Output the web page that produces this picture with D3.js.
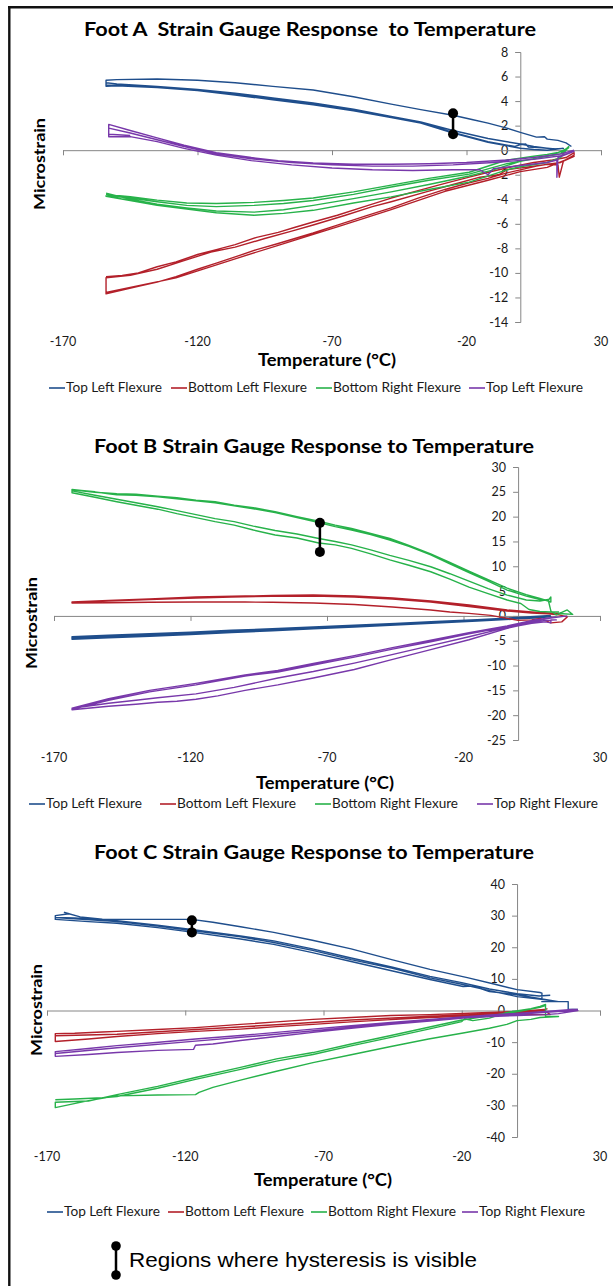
<!DOCTYPE html>
<html><head><meta charset="utf-8">
<script src="https://cdn.jsdelivr.net/npm/d3@7"></script>
<style>body{margin:0;background:#fff}svg{display:block}</style>
</head><body><svg id="c" width="613" height="1286"></svg>
<script>
// ---------------- DATA ----------------
const xTicks = [-170, -120, -70, -20, 30];
const yTicksA = [8, 6, 4, 2, 0, -2, -4, -6, -8, -10, -12, -14];
const yTicksB = [30, 25, 20, 15, 10, 5, 0, -5, -10, -15, -20, -25];
const yTicksC = [40, 30, 20, 10, 0, -10, -20, -30, -40];

const titles = ["Foot A  Strain Gauge Response  to Temperature",
                "Foot B Strain Gauge Response to Temperature",
                "Foot C Strain Gauge Response to Temperature"];
const legendA = ["Top Left Flexure", "Bottom Left Flexure", "Bottom Right Flexure", "Top Left Flexure"];
const legendB = ["Top Left Flexure", "Bottom Left Flexure", "Bottom Right Flexure", "Top Right Flexure"];
const legendC = ["Top Left Flexure", "Bottom Left Flexure", "Bottom Right Flexure", "Top Right Flexure"];
const seriesColors = ["#1F4E8C", "#B3202A", "#27B24A", "#7838AA"];

// Foot A  [temperature °C, microstrain]
const A_topLeft = [
 [19,0.3],[17,0.6],[14,0.8],[10,0.9],[9,1.1],[6,1.06],[0,1.45],[-5,1.8],[-12,2.2],[-18,2.5],[-25,2.85],[-37,3.3],[-48,3.75],[-62,4.35],[-77,4.9],[-92,5.2],[-106,5.5],[-120,5.7],[-135,5.8],[-150,5.75],[-154,5.7],
 [-154,5.2],[-150,5.25],[-135,5.1],[-120,4.85],[-106,4.5],[-92,4.1],[-77,3.7],[-62,3.2],[-48,2.65],[-37,2.2],[-25,1.4],[-12,0.65],[0,0.16],[5,0.05],[10,0],[16,0.15],
 [12,0.1],[5,0.3],[0,0.5],[-12,0.95],[-25,1.6],[-37,2.3],[-48,2.75],[-62,3.35],[-77,3.85],[-92,4.25],[-106,4.65],[-120,4.95],[-135,5.2],[-150,5.4],[-154,5.5],[-154,5.3],
 [-150,5.3],[-135,5.15],[-120,4.9],[-106,4.55],[-92,4.15],[-77,3.75],[-62,3.25],[-48,2.7],[-37,2.25],[-25,1.45],[-12,0.7],[-2,0.3],[0,0.45],[2,0.5],[3,0.25],[8,0.2],[13,0.1]
];
const A_bottomLeft = [
 [-154,-10.3],[-148,-10.2],[-142,-10.0],[-135,-9.5],[-128,-9.1],[-120,-8.5],[-113,-8.1],[-106,-7.7],[-98,-7.1],[-90,-6.7],[-84,-6.3],[-77,-5.85],[-68,-5.3],[-58,-4.6],[-48,-3.9],[-38,-3.3],[-28,-2.7],[-19,-2.2],[-10,-1.7],[-2,-1.3],[5,-1.0],[12,-0.8],[17,-0.6],[20,-0.2],
 [20,-0.4],[16,-0.9],[14.5,-2.2],[14,-1.2],[10,-1.15],[6,-1.3],[0,-1.6],[-5,-1.85],[-12,-2.3],[-19,-2.65],[-28,-3.2],[-38,-3.9],[-48,-4.7],[-58,-5.4],[-68,-6.1],[-77,-6.75],[-90,-7.6],[-98,-8.1],[-106,-8.7],[-113,-9.2],[-120,-9.7],[-128,-10.3],[-135,-10.75],[-142,-11.1],[-148,-11.4],[-154,-11.7],[-154,-10.4],
 [-145,-10.2],[-135,-9.7],[-125,-9.0],[-115,-8.3],[-106,-7.9],[-95,-7.2],[-85,-6.6],[-77,-6.1],[-65,-5.3],[-55,-4.6],[-48,-4.2],[-35,-3.4],[-25,-2.8],[-15,-2.2],[-8,-2.0],[-5,-1.6],[5,-1.3],[15,-1.0],[20,-0.5],
 [10,-1.4],[0,-1.75],[-12,-2.45],[-28,-3.35],[-48,-4.85],[-68,-6.25],[-90,-7.75],[-106,-8.85],[-128,-10.4],[-154,-11.6]
];
const A_bottomRight = [
 [-154,-3.6],[-145,-3.8],[-135,-4.07],[-124,-4.3],[-113,-4.35],[-106,-4.3],[-99,-4.25],[-88,-4.1],[-77,-3.9],[-62,-3.4],[-48,-2.85],[-34,-2.3],[-19,-1.8],[-5,-0.8],[5,-0.5],[10,-0.35],[16,-0.1],[18,0.3],
 [15,-0.6],[10,-1.0],[0,-1.35],[-5,-1.6],[-19,-2.6],[-34,-3.2],[-48,-3.8],[-62,-4.3],[-77,-4.9],[-88,-5.15],[-99,-5.3],[-113,-5.1],[-124,-4.8],[-135,-4.5],[-145,-4.1],[-154,-3.75],
 [-154,-3.7],[-145,-3.9],[-135,-4.2],[-124,-4.5],[-113,-4.6],[-99,-4.5],[-88,-4.35],[-77,-4.1],[-62,-3.6],[-48,-3.0],[-34,-2.45],[-19,-1.95],[-5,-1.1],[5,-0.7],[15,-0.3],[18,0.2],
 [12,-0.4],[0,-0.9],[-10,-1.6],[-19,-2.1],[-34,-2.8],[-48,-3.4],[-62,-3.95],[-77,-4.5],[-88,-4.85],[-99,-5.05],[-113,-4.95],[-124,-4.7],[-135,-4.4],[-145,-4.0],[-154,-3.5]
];
const A_topLeft2 = [
 [20,0],[15,-0.3],[5,-0.6],[-5,-0.8],[-20,-1.0],[-34,-1.1],[-48,-1.15],[-62,-1.15],[-77,-1.05],[-90,-0.85],[-100,-0.6],[-113,-0.2],[-125,0.4],[-135,1.0],[-145,1.6],[-153,2.1],
 [-153,1.1],[-145,1.1],[-135,0.7],[-125,0.15],[-113,-0.4],[-100,-0.85],[-85,-1.2],[-70,-1.45],[-55,-1.6],[-40,-1.65],[-25,-1.6],[-15,-1.6],[-12,-2.0],[-10,-1.5],[0,-1.25],[10,-1.0],[13.6,-0.8],[13.6,-2.2],[14,-0.6],[20,-0.1],
 [15,-0.45],[5,-0.75],[-10,-1.0],[-25,-1.2],[-40,-1.3],[-55,-1.3],[-70,-1.2],[-85,-1.0],[-100,-0.7],[-113,-0.3],[-125,0.3],[-135,0.85],[-145,1.4],[-153,1.8],[-153,1.3],[-145,1.2]
];

// Foot B
const B_topLeft = [
 [12,0.1],[6,-0.1],[0,-0.3],[-15,-0.75],[-30,-1.1],[-45,-1.5],[-60,-1.85],[-75,-2.2],[-90,-2.6],[-105,-2.9],[-120,-3.3],[-135,-3.6],[-150,-3.9],[-163.4,-4.2],
 [-163.4,-4.7],[-150,-4.4],[-135,-4.1],[-120,-3.75],[-105,-3.35],[-90,-3.0],[-75,-2.6],[-60,-2.25],[-45,-1.85],[-30,-1.45],[-15,-1.05],[0,-0.6],[6,-0.45],[12,-0.2],
 [6,-0.25],[0,-0.45],[-15,-0.9],[-30,-1.3],[-45,-1.7],[-60,-2.05],[-75,-2.4],[-90,-2.8],[-105,-3.15],[-120,-3.55],[-135,-3.85],[-150,-4.15],[-163.4,-4.5]
];
const B_bottomLeft = [
 [15,0.5],[11,0.6],[5,0.8],[-4,1.2],[-18,2.2],[-32,3.0],[-46,3.6],[-60,4.0],[-75,4.2],[-90,4.1],[-100,4.0],[-118,3.8],[-135,3.4],[-150,3.1],[-163.4,2.8],
 [-163.4,2.6],[-150,2.65],[-135,2.75],[-118,2.8],[-100,2.8],[-90,2.75],[-75,2.6],[-60,2.3],[-46,1.8],[-32,1.2],[-25,0.8],[-18,0.5],[-10,0.1],[-4,-0.5],[0,-0.9],[5,-0.8],[8,-0.5],[12,-1.4],[16,-1.2],[18,-0.2],[15,0.2],
 [11,0.4],[5,0.6],[-4,1.0],[-18,1.9],[-32,2.8],[-46,3.4],[-60,3.8],[-75,4.0],[-90,3.95],[-105,3.8],[-118,3.6],[-135,3.3],[-150,3.0],[-163.4,2.7]
];
const B_bottomRight = [
 [15,0.8],[12,0.8],[8,0.9],[4,1.3],[1,2.5],[-4,3.2],[-11,4.5],[-18,5.8],[-25,7.4],[-32,8.9],[-40,10.2],[-47,11.3],[-54,12.5],[-61,13.6],[-67,14.3],[-73,14.7],[-81,15.7],[-89,16.3],[-97,17.3],[-104,18.3],[-111,19.0],[-118,19.8],[-125,20.6],[-132,21.5],[-140,22.3],[-147,23.0],[-155,23.9],[-163.4,24.8],
 [-163.4,25.5],[-160,25.3],[-155,25.0],[-150,24.6],[-147,24.4],[-140,24.3],[-132,24.0],[-125,23.6],[-118,23.2],[-111,22.8],[-104,22.2],[-97,21.6],[-89,20.8],[-81,19.8],[-73,18.8],[-67,18.0],[-61,17.3],[-54,16.4],[-47,15.3],[-40,14.0],[-32,12.3],[-25,10.5],[-18,8.7],[-11,7.0],[-4,5.2],[3,4.0],[8,3.3],[11,3.1],[12,3.8],[12,2.8],
 [11,3.0],[8,3.5],[3,4.3],[-4,5.6],[-11,7.3],[-18,9.0],[-25,10.8],[-32,12.5],[-40,14.2],[-47,15.6],[-54,16.6],[-61,17.6],[-67,18.3],[-73,19.1],[-81,20.0],[-89,21.0],[-97,21.8],[-104,22.3],[-111,23.0],[-118,23.3],[-125,23.8],[-132,24.1],[-140,24.5],[-147,24.6],[-155,24.9],[-163.4,25.4],
 [-163.4,25.2],[-155,24.3],[-147,23.5],[-140,22.8],[-132,22.0],[-125,21.2],[-118,20.4],[-111,19.6],[-104,19.0],[-97,18.1],[-89,17.2],[-81,16.5],[-73,15.6],[-67,15.0],[-61,14.3],[-54,13.3],[-47,12.2],[-40,11.2],[-32,9.9],[-25,8.5],[-18,7.0],[-11,5.5],[-4,4.2],[3,3.2],[8,3.0],[11,3.3],[12,1.0],[14,0.2],[18,1.2],[20,0.3],[15,0.5]
];
const B_topRight = [
 [18,0],[14,-0.3],[10,-0.6],[6,-1.0],[-4,-2.2],[-18,-3.6],[-32,-5.2],[-46,-6.7],[-60,-8.3],[-75,-9.9],[-88,-11.3],[-100,-12.1],[-118,-13.9],[-135,-15.3],[-150,-17.0],[-163.4,-18.8],
 [-163.4,-18.9],[-150,-18.2],[-140,-17.8],[-132,-17.4],[-125,-17.2],[-118,-16.8],[-110,-16.1],[-100,-15.0],[-88,-13.9],[-75,-12.5],[-60,-10.8],[-47,-8.9],[-32,-6.8],[-18,-4.8],[-4,-2.5],[0,-2.0],[5,-1.5],[10,-1.2],[12,-1.4],[12,-0.8],[14,-0.8],
 [10,-0.9],[5,-1.3],[-4,-2.3],[-18,-4.2],[-32,-6.0],[-47,-7.9],[-60,-9.5],[-75,-11.2],[-88,-12.5],[-104,-14.4],[-118,-15.7],[-132,-16.5],[-140,-17.0],[-150,-17.6],[-163.4,-18.6],
 [-150,-16.7],[-135,-15.0],[-118,-13.6],[-100,-11.9],[-88,-11.0],[-75,-9.6],[-60,-8.0],[-46,-6.4],[-32,-4.9],[-18,-3.4],[-4,-2.0],[6,-0.8],[14,-0.2]
];

// Foot C
const C_topLeft = [
 [22,0.3],[18.5,0.3],[18.5,2.8],[9,2.8],[9,5.5],[8.3,5.7],[0,6.6],[-8,8.3],[-18,10.4],[-31.5,13.0],[-45,16.0],[-60,19.5],[-74,22.2],[-88,24.7],[-100,26.5],[-110,27.9],[-117.7,28.8],[-130,28.8],[-140,28.8],[-150,28.9],[-158,29.6],[-163.7,31],[-162,30.6],[-167,30.0],
 [-167,28.8],[-155,28.1],[-144.7,27.6],[-130,26.2],[-117.7,24.8],[-100,22.6],[-88,20.9],[-74,18.3],[-60,15.5],[-45,12.5],[-31.5,9.8],[-19.5,7.6],[-16,7.7],[-14,7.2],[-10,6.0],[0,5.0],[5.8,4.1],[15,2.8],
 [8,3.6],[0,4.4],[-10,6.3],[-20,8.3],[-31.5,10.3],[-45,13.3],[-60,16.1],[-74,19.0],[-88,21.5],[-100,23.3],[-117.7,25.3],[-130,26.7],[-144.7,28.1],[-160,29.0],[-167,29.4],
 [-160,29.3],[-144.7,28.4],[-130,27.0],[-117.7,25.6],[-100,23.6],[-88,22.0],[-74,19.5],[-60,16.6],[-45,13.7],[-31.5,10.8],[-20,8.8],[-10,6.8],[0,5.3],[8,4.6],[12,4.8]
];
const C_bottomLeft = [
 [11,0.6],[10,0.3],[0,-0.3],[-15,-0.8],[-31.5,-1.3],[-45.6,-1.6],[-60,-2.2],[-73.8,-2.8],[-87,-3.6],[-100,-4.4],[-116.3,-5.4],[-130,-6.0],[-144.7,-6.6],[-150,-6.8],[-160,-7.2],[-167,-7.3],
 [-167,-9.8],[-155,-9.0],[-144.7,-8.2],[-130,-7.3],[-116.3,-6.6],[-100,-5.9],[-87,-5.1],[-73.8,-4.4],[-60,-3.6],[-45.6,-2.9],[-31.5,-2.2],[-15,-1.7],[0,-1.3],[12,-1.3],
 [10,0.0],[0,-0.8],[-31.5,-1.8],[-60,-3.0],[-87,-4.5],[-116.3,-6.0],[-144.7,-7.5],[-167,-8.0]
];
const C_bottomRight = [
 [-167,-28.2],[-160,-28.0],[-150,-27.6],[-144.7,-27.2],[-130,-24.6],[-116.3,-21.8],[-100,-18.6],[-87,-16.0],[-73.8,-13.9],[-60,-11.2],[-45.6,-8.5],[-32,-5.9],[-20,-3.5],[-19,-2.6],[-16,-3.2],[-10,-2.4],[-3.7,-0.6],[5,0.6],[8.3,1.3],[10.3,1.9],[10.3,-1.9],
 [15,-1.9],[8.3,-2.2],[5,-2.8],[0,-3.2],[-3.7,-4.4],[-10,-5.6],[-20,-7.2],[-32,-9.0],[-45.6,-11.4],[-60,-14.0],[-73.8,-16.5],[-87,-19.2],[-100,-22.0],[-110,-24.3],[-115,-25.9],[-116.3,-26.6],[-130,-26.7],[-144.7,-27.0],[-155,-28.5],[-167,-30.7],[-167,-29.0],
 [-155,-28.6],[-144.7,-26.6],[-130,-24.0],[-116.3,-21.2],[-100,-18.0],[-87,-15.3],[-73.8,-13.3],[-60,-10.6],[-45.6,-7.9],[-32,-5.3],[-20,-3.0],[-10,-1.7],[0,-0.4],[8.3,1.0],[10.5,1.6]
];
const C_topRight = [
 [22,0.3],[20,0.3],[10.3,-0.3],[0,-0.9],[-17.4,-1.9],[-31.5,-2.8],[-45.6,-3.8],[-60,-4.8],[-74,-5.9],[-88,-7.0],[-100,-7.9],[-116.3,-9.0],[-130.6,-10.1],[-144.7,-11.1],[-155,-12.0],[-167,-13.0],
 [-167,-14.5],[-155,-13.9],[-144.7,-13.3],[-130,-12.6],[-117,-12.3],[-116.3,-11.0],[-110,-10.6],[-100,-9.5],[-87,-8.2],[-73.8,-6.9],[-60,-5.6],[-45.6,-4.4],[-31.5,-3.3],[-17.4,-2.2],[0,-1.6],[10.3,-1.3],[15,-1.0],[22,0],
 [20,0],[0,-1.2],[-31.5,-3.1],[-60,-5.3],[-88,-7.6],[-116.3,-9.7],[-144.7,-11.8],[-167,-13.6]
];

// hysteresis markers [temperature, strain top], [temperature, strain bottom]
const hystA = [[-25, 3.0], [-25, 1.3]];
const hystB = [[-72.6, 18.75], [-72.6, 12.9]];
const hystC = [[-117.6, 28.5], [-117.6, 24.7]];

// ---------------- LAYOUT ----------------
const charts = [
  { title: titles[0], titleX: 310, titleY: 36, titleLen: 452,
    xRange: [63, 601], yDomain: [-14, 8], yRange: [322, 52], yTicks: yTicksA,
    series: [A_topLeft, A_bottomLeft, A_bottomRight, A_topLeft2], hyst: hystA,
    yTitleX: 39, yTitleY: 164, xTitleX: 327, xTitleY: 360, xLabY: 342,
    legend: legendA, legY: 388, legTextX: [66, 188, 333, 486], legTextW: [96, 119, 128, 97] },
  { title: titles[1], titleX: 314, titleY: 453, titleLen: 440,
    xRange: [54, 600], yDomain: [-25, 30], yRange: [740, 467], yTicks: yTicksB,
    series: [B_topLeft, B_bottomLeft, B_bottomRight, B_topRight], hyst: hystB,
    yTitleX: 31, yTitleY: 623, xTitleX: 325, xTitleY: 783, xLabY: 758,
    legend: legendB, legY: 804, legTextX: [46, 177, 332, 494], legTextW: [96, 119, 126, 104] },
  { title: titles[2], titleX: 314, titleY: 859, titleLen: 440,
    xRange: [47, 600], yDomain: [-40, 40], yRange: [1137, 884], yTicks: yTicksC,
    series: [C_topLeft, C_bottomLeft, C_bottomRight, C_topRight], hyst: hystC,
    yTitleX: 36, yTitleY: 1010, xTitleX: 323, xTitleY: 1180, xLabY: 1157,
    legend: legendC, legY: 1212, legTextX: [64, 185, 328, 479], legTextW: [96, 119, 128, 106] }
];

const FONT = "Lato, 'Open Sans', sans-serif";
const svg = d3.select("#c");
svg.append("rect").attr("width", 613).attr("height", 1286).attr("fill", "#fff");

// frame (top + left)
svg.append("line").attr("x1", 8).attr("x2", 613).attr("y1", 7.2).attr("y2", 7.2).attr("stroke", "#111").attr("stroke-width", 2.4);
svg.append("line").attr("x1", 9.3).attr("x2", 9.3).attr("y1", 6).attr("y2", 1286).attr("stroke", "#111").attr("stroke-width", 2.4);

charts.forEach(c => {
  const g = svg.append("g");
  const x = d3.scaleLinear().domain([xTicks[0], xTicks[xTicks.length - 1]]).range(c.xRange);
  const y = d3.scaleLinear().domain(c.yDomain).range(c.yRange);
  const x0 = x(0), y0 = y(0);

  // title
  g.append("text").attr("x", c.titleX).attr("y", c.titleY).attr("text-anchor", "middle")
    .attr("font-family", FONT).attr("font-weight", "bold").attr("font-size", 18)
    .attr("textLength", c.titleLen).attr("lengthAdjust", "spacingAndGlyphs")
    .style("white-space", "pre").attr("xml:space", "preserve").text(c.title);

  // y axis
  const yAxis = d3.axisLeft(y).tickValues(c.yTicks).tickSize(5).tickPadding(7).tickFormat(d3.format("d"));
  const ya = g.append("g").attr("transform", `translate(${x0},0)`).call(yAxis);
  ya.select(".domain").attr("stroke", "#868686");
  ya.selectAll(".tick line").attr("stroke", "#868686");
  ya.selectAll(".tick text").attr("font-family", FONT).attr("font-size", 12.5).attr("fill", "#1a1a1a")
    .text(d => d < 0 ? "-" + Math.abs(d) : d);

  // x axis (line at y=0, labels at bottom)
  const xAxis = d3.axisBottom(x).tickValues(xTicks).tickSize(5).tickFormat("");
  const xa = g.append("g").attr("transform", `translate(0,${y0})`).call(xAxis);
  xa.select(".domain").attr("stroke", "#868686");
  xa.selectAll(".tick line").attr("stroke", "#868686");
  g.selectAll(".xl").data(xTicks).join("text")
    .attr("x", d => x(d)).attr("y", c.xLabY).attr("dy", "0.35em").attr("text-anchor", "middle")
    .attr("font-family", FONT).attr("font-size", 12.5).attr("fill", "#1a1a1a")
    .text(d => d < 0 ? "-" + Math.abs(d) : d);

  // axis titles
  g.append("text").attr("x", c.xTitleX).attr("y", c.xTitleY).attr("dy", "0.35em").attr("text-anchor", "middle")
    .attr("font-family", FONT).attr("font-weight", "bold").attr("font-size", 16.5)
    .attr("textLength", 138).attr("lengthAdjust", "spacingAndGlyphs").text("Temperature (°C)");
  g.append("text").attr("transform", `translate(${c.yTitleX},${c.yTitleY}) rotate(-90)`).attr("dy", "0.35em")
    .attr("text-anchor", "middle").attr("font-family", FONT).attr("font-weight", "bold").attr("font-size", 16)
    .attr("textLength", 92).attr("lengthAdjust", "spacingAndGlyphs").text("Microstrain");

  // series
  const line = d3.line().x(d => x(d[0])).y(d => y(d[1]));
  c.series.forEach((s, i) => {
    g.append("path").datum(s).attr("d", line).attr("fill", "none")
      .attr("stroke", seriesColors[i]).attr("stroke-width", 1.4).attr("stroke-linejoin", "round");
  });

  // hysteresis marker
  g.append("line").attr("x1", x(c.hyst[0][0])).attr("x2", x(c.hyst[1][0]))
    .attr("y1", y(c.hyst[0][1])).attr("y2", y(c.hyst[1][1])).attr("stroke", "#000").attr("stroke-width", 2.5);
  g.selectAll(".hc").data(c.hyst).join("circle").attr("cx", d => x(d[0])).attr("cy", d => y(d[1]))
    .attr("r", 5).attr("fill", "#000");

  // legend
  c.legend.forEach((name, i) => {
    const tx = c.legTextX[i];
    g.append("line").attr("x1", tx - 17).attr("x2", tx - 1).attr("y1", c.legY).attr("y2", c.legY)
      .attr("stroke", seriesColors[i]).attr("stroke-width", 1.6);
    g.append("text").attr("x", tx).attr("y", c.legY).attr("dy", "0.35em")
      .attr("font-family", FONT).attr("font-size", 12.5).attr("fill", "#1a1a1a")
      .attr("textLength", c.legTextW[i]).attr("lengthAdjust", "spacingAndGlyphs").text(name);
  });
});

// bottom note
const note = svg.append("g");
note.append("line").attr("x1", 116).attr("x2", 116).attr("y1", 1246).attr("y2", 1275).attr("stroke", "#000").attr("stroke-width", 2.5);
note.selectAll("circle").data([1246, 1275]).join("circle").attr("cx", 116).attr("cy", d => d).attr("r", 4.8).attr("fill", "#000");
note.append("text").attr("x", 129).attr("y", 1260).attr("dy", "0.35em")
  .attr("font-family", "'Liberation Sans', Arial, sans-serif").attr("font-size", 20).attr("fill", "#000")
  .attr("textLength", 348).attr("lengthAdjust", "spacingAndGlyphs")
  .text("Regions where hysteresis is visible");
</script></body></html>
